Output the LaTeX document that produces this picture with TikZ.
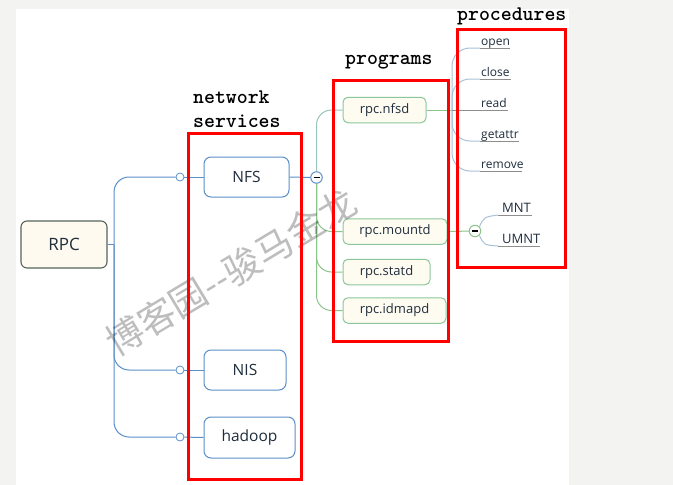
\documentclass[tikz,border=0pt]{standalone}
\usepackage{fontspec}
\setmainfont{Open Sans}
\newfontfamily\cjkfont{Noto Sans CJK SC}
\definecolor{bgc}{HTML}{F3F4F2}
\definecolor{rpcfill}{HTML}{FEFAEF}
\definecolor{rpcdraw}{HTML}{56655A}
\definecolor{netdraw}{HTML}{5B8FC9}
\definecolor{progfill}{HTML}{FEFBF0}
\definecolor{progdraw}{HTML}{8CC79A}
\definecolor{progteal}{HTML}{98C4BC}
\definecolor{proggreen}{HTML}{8CC48C}
\definecolor{procline}{HTML}{A9C1D6}
\definecolor{uline}{HTML}{8E8E8E}
\definecolor{txt}{HTML}{1F2D3D}
\begin{document}
\begin{tikzpicture}[x=1pt,y=-1pt,
  rpcbox/.style={draw=rpcdraw, fill=rpcfill, rounded corners=6pt, line width=1.1pt,
    minimum width=86pt, minimum height=47pt, inner sep=0pt, text=txt,
    font=\fontsize{17}{17}\selectfont},
  netbox/.style={draw=netdraw, fill=white, rounded corners=7pt, line width=1pt,
    minimum height=40pt, inner sep=0pt, text=txt, font=\fontsize{15.5}{15.5}\selectfont},
  progbox/.style={draw=progdraw, fill=progfill, rounded corners=5pt, line width=1pt,
    minimum height=25.5pt, inner sep=0pt, text=txt, font=\fontsize{13}{13}\selectfont},
  redbox/.style={draw=red, line width=3pt},
  grouplabel/.style={anchor=base west, inner sep=0pt, font=\ttfamily\bfseries\fontsize{20.8}{22}\selectfont},
  proctext/.style={anchor=base west, inner sep=0pt, text=txt, font=\fontsize{12}{12}\selectfont},
  mnttext/.style={anchor=base west, inner sep=0pt, text=txt, font=\fontsize{13}{13}\selectfont},
  dotnode/.style={circle, draw=netdraw, fill=white, inner sep=0pt, minimum size=8pt, line width=0.8pt},
  collapse/.style={circle, fill=white, inner sep=0pt, minimum size=11.5pt, line width=1pt,
    path picture={\draw[line width=1.3pt, black] ([xshift=-3pt]path picture bounding box.center) -- ([xshift=3pt]path picture bounding box.center);}},
  netline/.style={draw=netdraw, line width=1pt},
]
\useasboundingbox (0,0) rectangle (673,485);
\fill[bgc] (0,0) rectangle (673,485);
\fill[white] (16,9) rectangle (569,485);

% level 1
\node[rpcbox] (rpc) at (64,244.5) {RPC};
\node[netbox, minimum width=85pt] (nfs) at (246.5,177) {NFS};
\node[netbox, minimum width=82pt] (nis) at (245,370) {NIS};
\node[netbox, minimum width=91pt, minimum height=41pt] (hadoop) at (249.5,437.5) {hadoop};
\node[dotnode] (d1) at (180,177) {};
\node[dotnode] (d2) at (180,370) {};
\node[dotnode] (d3) at (180,437) {};
\coordinate (j1) at (114,244.5);
\draw[netline] (rpc.east) -- (j1);
\draw[netline, rounded corners=15pt] (j1) |- (d1);
\draw[netline, rounded corners=15pt] (j1) |- (d2);
\draw[netline, rounded corners=15pt] (j1) |- (d3);
\draw[netline] (d1) -- (nfs.west);
\draw[netline] (d2) -- (nis.west);
\draw[netline] (d3) -- (hadoop.west);

% programs
\node[progbox, minimum width=83pt] (nfsd) at (384.5,110) {rpc.nfsd};
\node[progbox, minimum width=104pt] (mountd) at (395,231.5) {rpc.mountd};
\node[progbox, minimum width=87pt] (statd) at (386.5,272) {rpc.statd};
\node[progbox, minimum width=103pt] (idmapd) at (394.5,310.5) {rpc.idmapd};
\node[collapse, draw=netdraw] (c1) at (316.5,177.5) {};
\draw[netline] (nfs.east) -- (c1);
\draw[progteal, line width=1pt, rounded corners=15pt] (c1) |- (nfsd.west);
\draw[proggreen, line width=1pt, rounded corners=15pt] (c1) |- (mountd.west);
\draw[proggreen, line width=1pt, rounded corners=15pt] (c1) |- (statd.west);
\draw[proggreen, line width=1pt, rounded corners=15pt] (c1) |- (idmapd.west);

% procedures of rpc.nfsd
\coordinate (j2) at (452,110);
\draw[proggreen, line width=1pt] (nfsd.east) -- (j2);
\coordinate (u1s) at (480,48);  \coordinate (u1e) at (510,48);
\coordinate (u2s) at (480,79);  \coordinate (u2e) at (511,79);
\coordinate (u3e) at (508,110);
\coordinate (u4s) at (480,141); \coordinate (u4e) at (519,141);
\coordinate (u5s) at (480,171); \coordinate (u5e) at (522,171);
\draw[procline, line width=1pt, rounded corners=18pt] (j2) |- (u1s);
\draw[procline, line width=1pt, rounded corners=18pt] (j2) |- (u2s);
\draw[procline, line width=1pt, rounded corners=18pt] (j2) |- (u4s);
\draw[procline, line width=1pt, rounded corners=18pt] (j2) |- (u5s);
\draw[uline, line width=0.9pt] (u1s) -- (u1e);
\draw[uline, line width=0.9pt] (u2s) -- (u2e);
\draw[uline, line width=0.9pt] (j2) -- (u3e);
\draw[uline, line width=0.9pt] (u4s) -- (u4e);
\draw[uline, line width=0.9pt] (u5s) -- (u5e);
\node[proctext] (popen) at (481,45) {open};
\node[proctext] (pclose) at (481,76) {close};
\node[proctext] (pread) at (481,107) {read};
\node[proctext] (pgetattr) at (481,138) {getattr};
\node[proctext] (premove) at (481,168) {remove};

% procedures of rpc.mountd
\node[collapse, draw=proggreen] (c2) at (475,231) {};
\draw[proggreen, line width=1pt] (mountd.east) -- (c2);
\coordinate (m1s) at (498,215); \coordinate (m1e) at (532,215);
\coordinate (m2s) at (498,246); \coordinate (m2e) at (540,246);
\draw[procline, line width=1pt] (c2.north east) .. controls (484,217) .. (m1s);
\draw[procline, line width=1pt] (c2.south east) .. controls (484,245) .. (m2s);
\draw[uline, line width=0.9pt] (m1s) -- (m1e);
\draw[uline, line width=0.9pt] (m2s) -- (m2e);
\node[mnttext] (pmnt) at (502,212) {MNT};
\node[mnttext] (pumnt) at (502,243) {UMNT};

% watermark
\node[rotate=31, text=black, opacity=0.26, inner sep=0pt,
  font=\cjkfont\fontsize{37}{37}\selectfont] (wm) at (231,272) {博客园--骏马金龙};

% red group frames and labels
\draw[redbox] (188,133) rectangle (301,479);
\draw[redbox] (333,80) rectangle (448,341);
\draw[redbox] (457,29) rectangle (565,267);
\node[grouplabel] (lnet) at (193,103) {network};
\node[grouplabel] (lserv) at (193,127) {services};
\node[grouplabel] (lprog) at (345,64) {programs};
\node[grouplabel] (lproc) at (457,20) {procedures};
\end{tikzpicture}
\end{document}
